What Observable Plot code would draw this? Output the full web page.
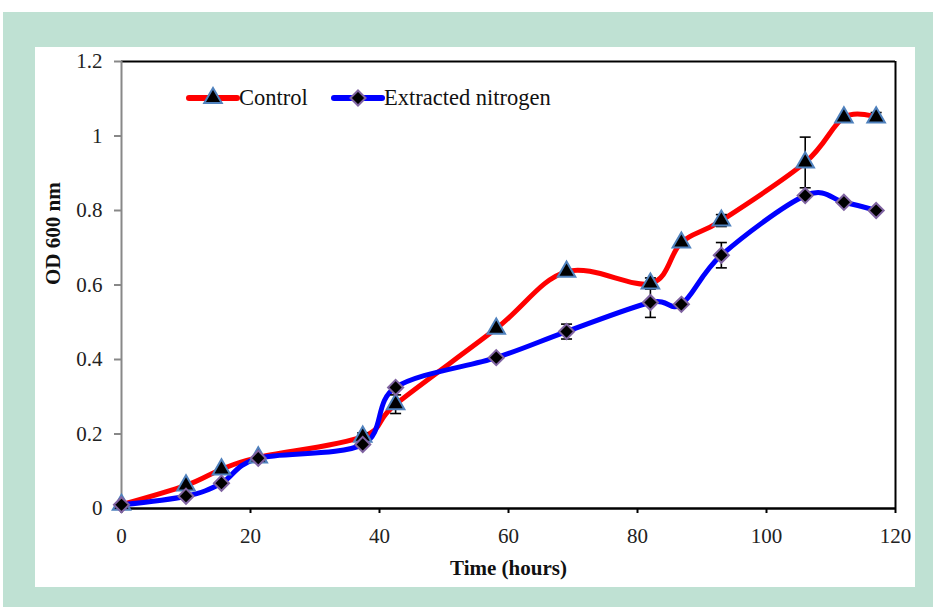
<!DOCTYPE html>
<html>
<head>
<meta charset="utf-8">
<script src="https://cdn.jsdelivr.net/npm/d3@7"></script>
<script src="https://cdn.jsdelivr.net/npm/@observablehq/plot@0.6"></script>
<style>
  html, body { margin: 0; padding: 0; background: #ffffff; }
  #outer { position: absolute; left: 3px; top: 12px; width: 930px; height: 595px; background: #bfe1d3; }
  #inner { position: absolute; left: 32px; top: 35px; width: 880px; height: 540px; background: #ffffff; }
</style>
</head>
<body>
<div id="outer"><div id="inner"><div id="chart"></div></div></div>
<script>
const time = [0, 10, 15.5, 21.2, 37.4, 42.5, 58.1, 69, 82, 86.8, 93, 106, 112, 117];
const control = [0.01, 0.062, 0.105, 0.137, 0.193, 0.28, 0.483, 0.636, 0.604, 0.714, 0.773, 0.929, 1.05, 1.05];
const controlErr = [0, 0, 0, 0, 0.01, 0.025, 0, 0, 0.015, 0, 0.016, 0.068, 0, 0.013];
const nitrogen = [0.01, 0.033, 0.068, 0.135, 0.172, 0.325, 0.405, 0.475, 0.553, 0.548, 0.68, 0.84, 0.822, 0.80];
const nitrogenErr = [0, 0, 0, 0, 0, 0, 0, 0.02, 0.04, 0, 0.034, 0, 0, 0];
const seriesNames = ["Control", "Extracted nitrogen"];
const xTicks = [0, 20, 40, 60, 80, 100, 120];
const yTicks = [0, 0.2, 0.4, 0.6, 0.8, 1, 1.2];

const colors = {"Control": "#ff0000", "Extracted nitrogen": "#0000ff"};
const markStroke = {"Control": "#4f81bd", "Extracted nitrogen": "#8064a2"};

const rows = [];
time.forEach((t, i) => {
  rows.push({series: seriesNames[0], t, v: control[i], e: controlErr[i]});
});
time.forEach((t, i) => {
  rows.push({series: seriesNames[1], t, v: nitrogen[i], e: nitrogenErr[i]});
});
const errRows = rows.filter(d => d.e > 0);

const capSymbol = {
  draw(ctx, size) {
    const w = 5.5;
    ctx.moveTo(-w, 0);
    ctx.lineTo(w, 0);
  }
};

const font = "'Liberation Serif', 'Times New Roman', serif";

const chart = Plot.plot({
  width: 880,
  height: 540,
  marginLeft: 86,
  marginRight: 20,
  marginTop: 14,
  marginBottom: 79,
  style: {fontFamily: font, fontSize: "21px", color: "#222", background: "white", overflow: "visible"},
  x: {domain: [0, 120]},
  y: {domain: [0, 1.2]},
  marks: [
    Plot.ruleY([1.2], {stroke: "#000", strokeWidth: 2}),
    Plot.ruleX([120], {stroke: "#000", strokeWidth: 2}),
    Plot.axisY({ticks: yTicks, tickFormat: d => String(+d.toFixed(1)), tickSize: 7, tickPadding: 12, stroke: "#888", strokeWidth: 2, fill: "#222", label: null}),
    Plot.axisX({ticks: xTicks, tickFormat: d => String(d), tickSize: 5, tickPadding: 15, stroke: "#000", strokeWidth: 2, fill: "#222", label: null}),
    Plot.ruleX([0], {stroke: "#888", strokeWidth: 2}),
    Plot.ruleY([0], {stroke: "#000", strokeWidth: 2.5}),
    Plot.line(rows.filter(d => d.series === seriesNames[0]), {x: "t", y: "v", stroke: colors["Control"], strokeWidth: 5, curve: "cardinal", tension: 0}),
    Plot.line(rows.filter(d => d.series === seriesNames[1]), {x: "t", y: "v", stroke: colors["Extracted nitrogen"], strokeWidth: 5, curve: "cardinal", tension: 0}),
    Plot.link(errRows, {x1: "t", x2: "t", y1: d => d.v - d.e, y2: d => d.v + d.e, stroke: "#000", strokeWidth: 1.6}),
    Plot.dot(errRows, {x: "t", y: d => d.v - d.e, symbol: capSymbol, stroke: "#000", strokeWidth: 1.6, fill: "none"}),
    Plot.dot(errRows, {x: "t", y: d => d.v + d.e, symbol: capSymbol, stroke: "#000", strokeWidth: 1.6, fill: "none"}),
    Plot.dot(rows.filter(d => d.series === seriesNames[0]), {x: "t", y: "v", symbol: "triangle", r: 6.5, fill: "#000", stroke: markStroke["Control"], strokeWidth: 2}),
    Plot.dot(rows.filter(d => d.series === seriesNames[1]), {x: "t", y: "v", symbol: "diamond2", r: 6.8, fill: "#000", stroke: markStroke["Extracted nitrogen"], strokeWidth: 2}),
    Plot.text(["Time (hours)"], {frameAnchor: "bottom", dy: 66, fontWeight: "bold", fontSize: 21, fill: "#111"}),
    Plot.text(["OD 600 nm"], {frameAnchor: "left", dx: -68, rotate: -90, fontWeight: "bold", fontSize: 21, fill: "#111"})
  ]
});
document.getElementById("chart").appendChild(chart);

// Legend inside the plot area (same SVG, same font as the axes)
const triPath = d3.symbol(d3.symbolTriangle, Math.PI * 6.5 * 6.5)();
const diaPath = d3.symbol(d3.symbolDiamond2, Math.PI * 6.8 * 6.8)();
const lg = d3.select(chart).append("g")
  .attr("transform", "translate(152,51)")
  .attr("font-family", font)
  .attr("font-size", 22.5)
  .attr("text-anchor", "start")
  .attr("fill", "#111");
const legendOffsets = [0, 145];
seriesNames.forEach((name, i) => {
  const g = lg.append("g").attr("transform", `translate(${legendOffsets[i]},0)`);
  g.append("line").attr("x1", 2).attr("x2", 50).attr("y1", 0).attr("y2", 0)
    .attr("stroke", colors[name]).attr("stroke-width", 6).attr("stroke-linecap", "round");
  g.append("path").attr("d", name === "Control" ? triPath : diaPath)
    .attr("transform", "translate(26,0)").attr("fill", "#000")
    .attr("stroke", markStroke[name]).attr("stroke-width", 2);
  g.append("text").attr("x", 52).attr("y", 0).attr("dy", "0.32em")
    .attr("text-anchor", "start").text(name);
});
</script>
</body>
</html>
